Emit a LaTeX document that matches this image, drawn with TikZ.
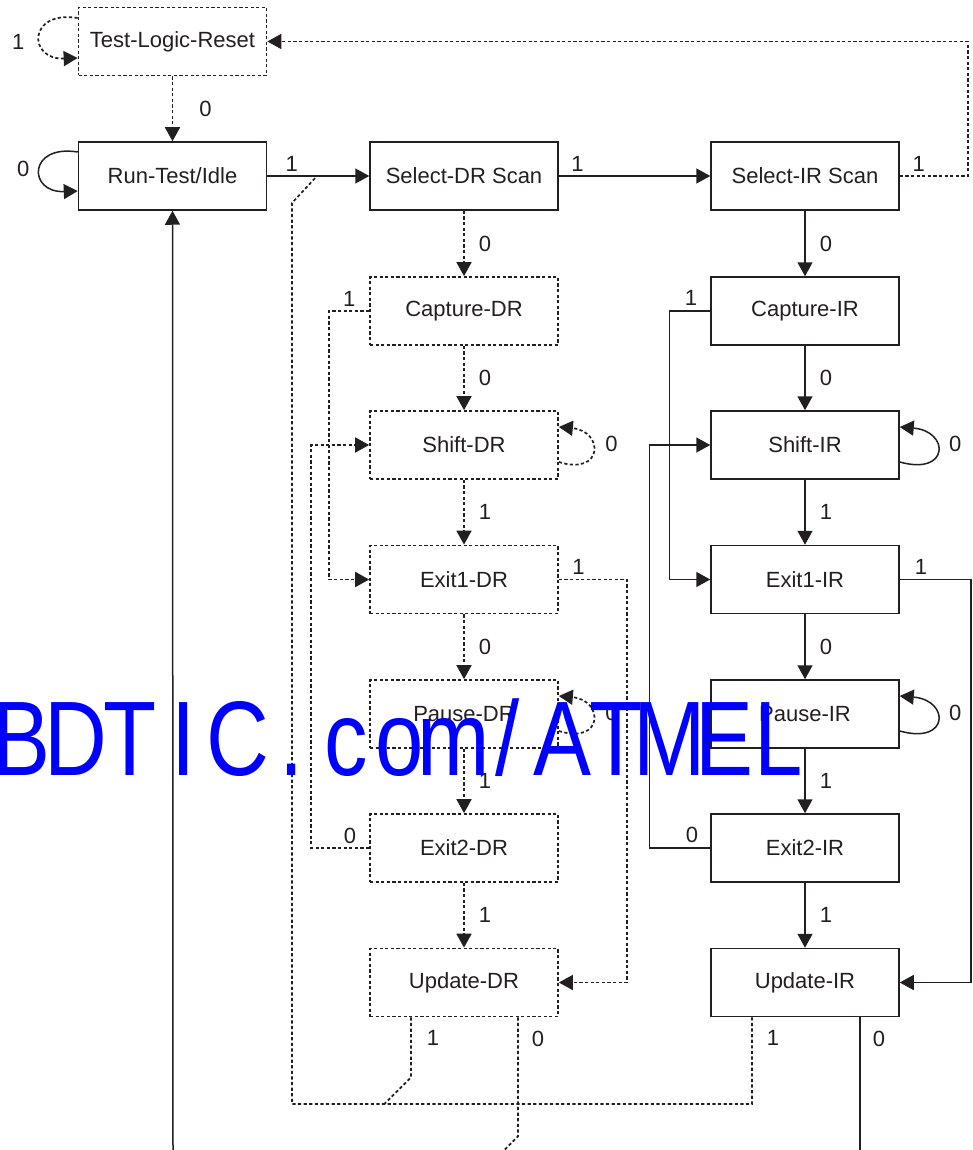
\documentclass[tikz,border=0pt]{standalone}
\usepackage{fontspec}
\setmainfont{Liberation Sans}
\usetikzlibrary{arrows.meta, positioning, calc}
\definecolor{tapInk}{HTML}{231F20}
\definecolor{wmBlue}{HTML}{0000FF}
\newcommand{\statefont}{\fontsize{22}{26}\selectfont}
\newcommand{\wmcell}[1]{\makebox[65.9pt]{#1}}
\tikzset{
  solidline/.style = {tapInk, line width=1.5pt},
  dotline/.style   = {tapInk, line width=1.7pt, dash pattern=on 3.2pt off 2.4pt},
  tip/.style       = {-{Triangle[length=14pt, width=15pt]}},
  lbl/.style       = {font=\statefont, text=tapInk, inner sep=0pt},
}

\begin{document}
\begin{tikzpicture}[x=1pt, y=-1pt,
    state/.style={draw=tapInk, line width=1.5pt, minimum width=188pt, minimum height=68pt,
                  inner sep=0pt, font=\statefont, text=tapInk},
    dstate/.style={state, line width=1.7pt, dash pattern=on 3.2pt off 2.4pt},
    flow/.style={solidline, tip},
    dflow/.style={dotline, tip}]
  \useasboundingbox (0,0) rectangle (973,1150);
  % top row
  \node[dstate] (tlr) at (172.5,41.5) {Test-Logic-Reset};
  \node[state] (rti) at (172.5,176) {Run-Test/Idle};
  \node[state] (sdr) at (464,176) {Select-DR Scan};
  \node[state] (sir) at (805,176) {Select-IR Scan};
  % data register column
  \node[dstate] (cdr) at (464,311) {Capture-DR};
  \node[dstate] (shdr) at (464,445) {Shift-DR};
  \node[dstate] (e1dr) at (464,579.5) {Exit1-DR};
  \node[dstate] (pdr) at (464,714) {Pause-DR};
  \node[dstate] (e2dr) at (464,848) {Exit2-DR};
  \node[dstate] (udr) at (464,982.5) {Update-DR};
  % instruction register column
  \node[state] (cir) at (805,311) {Capture-IR};
  \node[state] (shir) at (805,445) {Shift-IR};
  \node[state] (e1ir) at (805,579.5) {Exit1-IR};
  \node[state] (pir) at (805,714) {Pause-IR};
  \node[state] (e2ir) at (805,848) {Exit2-IR};
  \node[state] (uir) at (805,982.5) {Update-IR};
  \coordinate (tapjoin) at (317,176);
  \coordinate (tapcorner) at (292,203);
  \coordinate (tapfloor) at (292,1104);
  \coordinate (rtiin) at (173,1150);

  % self loops on the left
  \draw[dflow] ([yshift=23.5pt]tlr.west) .. controls +(-50,-8) and +(-50,2) .. ([yshift=-16.5pt]tlr.west)
    node[lbl, pos=0.5, xshift=-22pt, yshift=-6pt] {1};
  \draw[flow] ([yshift=24pt]rti.west) .. controls +(-50,-8) and +(-50,2) .. ([yshift=-15pt]rti.west)
    node[lbl, pos=0.5, xshift=-17pt] {0};
  % top row
  \draw[dflow] (tlr) -- (rti) node[lbl, midway, xshift=33pt] {0};
  \draw[flow] (rti) -- (sdr) node[lbl, pos=0.24, yshift=12.5pt] {1};
  \draw[flow] (sdr) -- (sir) node[lbl, pos=0.124, yshift=12.5pt] {1};
  \draw[dflow] (sir.east) -- node[lbl, pos=0.28, yshift=12.5pt] {1} ++(68,0) |- (tlr.east);

  % data register column
  \draw[dflow] (sdr) -- (cdr) node[lbl, midway, xshift=21pt] {0};
  \draw[dflow] (cdr) -- (shdr) node[lbl, midway, xshift=21pt] {0};
  \draw[dflow] (shdr) -- (e1dr) node[lbl, midway, xshift=21pt] {1};
  \draw[dflow] (e1dr) -- (pdr) node[lbl, midway, xshift=21pt] {0};
  \draw[dflow] (pdr) -- (e2dr) node[lbl, midway, xshift=21pt] {1};
  \draw[dflow] (e2dr) -- (udr) node[lbl, midway, xshift=21pt] {1};
  \draw[dflow] ([yshift=-17pt]shdr.east) .. controls +(45,14) and +(45,4) .. ([yshift=18pt]shdr.east)
    node[lbl, pos=0.5, xshift=19pt, yshift=7pt] {0};
  \draw[dflow] ([yshift=-17pt]pdr.east) .. controls +(45,14) and +(45,4) .. ([yshift=18pt]pdr.east)
    node[lbl, pos=0.5, xshift=19pt, yshift=7pt] {0};
  \draw[dflow] (cdr.west) -- node[lbl, midway, yshift=12.5pt] {1} ++(-40,0) |- (e1dr.west);
  \draw[dflow] (e2dr.west) -- node[lbl, pos=0.33, yshift=12.5pt] {0} ++(-58,0) |- (shdr.west);
  \draw[dflow] (e1dr.east) -- node[lbl, pos=0.29, yshift=13pt] {1} ++(68,0) |- (udr.east);

  % instruction register column
  \draw[flow] (sir) -- (cir) node[lbl, midway, xshift=21pt] {0};
  \draw[flow] (cir) -- (shir) node[lbl, midway, xshift=21pt] {0};
  \draw[flow] (shir) -- (e1ir) node[lbl, midway, xshift=21pt] {1};
  \draw[flow] (e1ir) -- (pir) node[lbl, midway, xshift=21pt] {0};
  \draw[flow] (pir) -- (e2ir) node[lbl, midway, xshift=21pt] {1};
  \draw[flow] (e2ir) -- (uir) node[lbl, midway, xshift=21pt] {1};
  \draw[flow] ([yshift=-17pt]shir.east) .. controls +(50,14) and +(50,4) .. ([yshift=18pt]shir.east)
    node[lbl, pos=0.5, xshift=18pt, yshift=7pt] {0};
  \draw[flow] ([yshift=-17pt]pir.east) .. controls +(50,14) and +(50,4) .. ([yshift=18pt]pir.east)
    node[lbl, pos=0.5, xshift=18pt, yshift=7pt] {0};
  \draw[flow] (cir.west) -- node[lbl, pos=0.47, yshift=13pt] {1} ++(-41,0) |- (e1ir.west);
  \draw[flow] (e2ir.west) -- node[lbl, pos=0.3, yshift=13pt] {0} ++(-61,0) |- (shir.west);
  \draw[flow] (e1ir.east) -- node[lbl, pos=0.3, yshift=13pt] {1} ++(71,0) |- (uir.east);

  % exits from the update states
  \draw[dotline] ([xshift=-53pt]uir.south) -- node[lbl, pos=0.24, xshift=21pt] {1}
    ([xshift=-53pt]uir.south |- tapfloor) -- (tapfloor) -- (tapcorner) -- (tapjoin);
  \draw[dotline] ([xshift=-53pt]udr.south) -- node[lbl, pos=0.35, xshift=22pt] {1} ++(0,60) -- ++(-28,28);
  \draw[dotline] ([xshift=54pt]udr.south) -- node[lbl, pos=0.18, xshift=20pt] {0} ++(0,119) -- ++(-16,16);
  \draw[solidline] ([xshift=55pt]uir.south) -- node[lbl, pos=0.16, xshift=19pt] {0} ++(0,134);
  \draw[flow] (rtiin) -- (rti.south);

  % watermark
  \node[anchor=base west, inner sep=0pt, xscale=0.82, text=wmBlue, font=\fontsize{106}{106}\selectfont]
    (bdtic) at (-5.5,775) {\wmcell{B}\wmcell{D}\wmcell{T}\wmcell{I}\wmcell{C}\wmcell{.}\wmcell{c}\wmcell{o}%
    \wmcell{m}\wmcell{/}\wmcell{A}\wmcell{T}\wmcell{M}\wmcell{E}\wmcell{L}};
\end{tikzpicture}
\end{document}
